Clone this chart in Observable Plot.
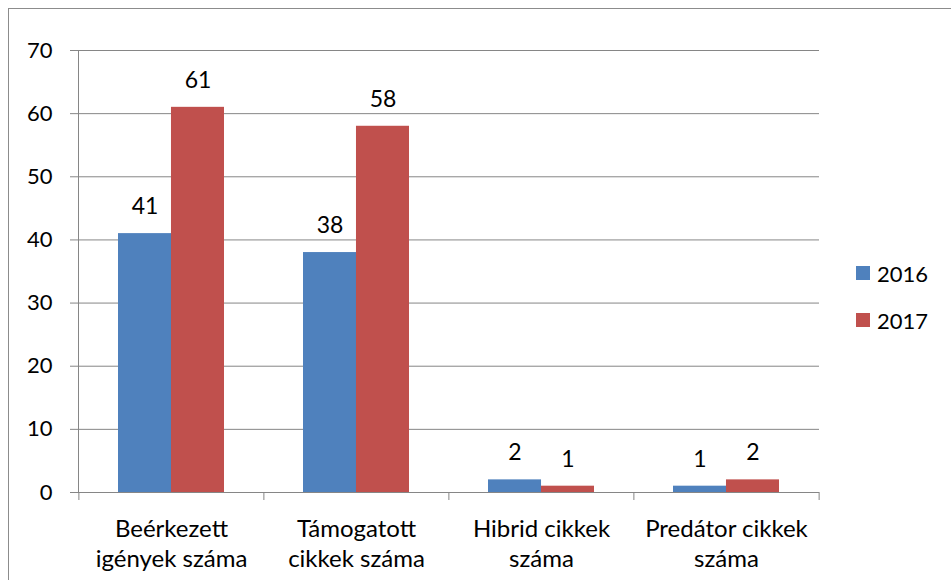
<!DOCTYPE html>
<html>
<head>
<meta charset="utf-8">
<script src="https://cdn.jsdelivr.net/npm/d3@7"></script>
<script src="https://cdn.jsdelivr.net/npm/@observablehq/plot@0.6"></script>
<style>
  html, body { margin: 0; padding: 0; background: #fff; overflow: hidden; width: 951px; height: 580px; }
  #wrap { position: relative; width: 951px; height: 580px; }
  #border { position: absolute; left: 8px; top: 8px; width: 1000px; height: 700px; border: 1px solid #8c8c8c; box-sizing: border-box; }
  #chart { position: absolute; left: 0; top: 0; }
  #chart svg text { fill: #000; }
  #legend { position: absolute; left: 856px; top: 258px; font-family: Lato, sans-serif; font-size: 22px; color: #000; }
  .item { display: flex; align-items: center; height: 30px; margin-bottom: 17px; }
  .sw { width: 14px; height: 14px; margin-right: 7px; }
</style>
</head>
<body>
<div id="wrap">
  <div id="border"></div>
  <div id="chart"></div>
  <div id="legend"></div>
</div>
<script>
const categories = ["Beérkezett\nigények száma", "Támogatott\ncikkek száma", "Hibrid cikkek\nszáma", "Predátor cikkek\nszáma"];
const years = ["2016", "2017"];
const values2016 = [41, 38, 2, 1];
const values2017 = [61, 58, 1, 2];
const yTicks = [0, 10, 20, 30, 40, 50, 60, 70];
const colors = ["#4F81BD", "#C0504D"];

const data = [];
categories.forEach((c, i) => {
  data.push({category: c, year: years[0], value: values2016[i]});
  data.push({category: c, year: years[1], value: values2017[i]});
});
const d16 = data.filter(d => d.year === years[0]);
const d17 = data.filter(d => d.year === years[1]);

const W = 951, H = 580, ml = 78, mr = 132, mt = 50, mb = 88;
const pInner = 0.428, pOuter = 0.214;
const step = (W - ml - mr) / categories.length;
const bw = step * (1 - pInner);
const tickLen = 8 * 70 / (H - mt - mb);

const lastCat = categories.slice(-1);

const plot = Plot.plot({
  width: W,
  height: H,
  marginLeft: ml,
  marginRight: mr,
  marginTop: mt,
  marginBottom: mb,
  style: {fontFamily: "Lato, sans-serif", fontSize: "22px", color: "#868686", background: "transparent", overflow: "visible"},
  x: {domain: categories, paddingInner: pInner, paddingOuter: pOuter, axis: null},
  y: {domain: [0, 70], ticks: yTicks, tickSize: 8, tickPadding: 18, label: null, line: true, tickFormat: d => String(d)},
  marks: [
    Plot.ruleY(yTicks, {stroke: "#868686", strokeWidth: 1}),
    Plot.barY(d16, {x: "category", y: "value", fill: colors[0], insetRight: bw / 2}),
    Plot.barY(d17, {x: "category", y: "value", fill: colors[1], insetLeft: bw / 2}),
    Plot.ruleY([0], {stroke: "#868686", strokeWidth: 1}),
    Plot.ruleX(categories, {x: d => d, y1: 0, y2: -tickLen, dx: -step / 2, stroke: "#868686"}),
    Plot.ruleX(lastCat, {x: d => d, y1: 0, y2: -tickLen, dx: step / 2, stroke: "#868686"}),
    Plot.text(d16, {x: "category", y: "value", text: d => String(d.value), dx: -bw / 4, dy: -27, fill: "#000", fontSize: 23}),
    Plot.text(d17, {x: "category", y: "value", text: d => String(d.value), dx: bw / 4, dy: -27, fill: "#000", fontSize: 23}),
    Plot.text(categories, {x: d => d, y: 0, text: d => d, lineAnchor: "top", dy: 23, lineHeight: 1.25, fill: "#000", fontSize: 24})
  ]
});
document.getElementById("chart").appendChild(plot);

const legend = document.getElementById("legend");
years.forEach((y, i) => {
  const it = document.createElement("div");
  it.className = "item";
  const sw = document.createElement("div");
  sw.className = "sw";
  sw.style.background = colors[i];
  const t = document.createElement("span");
  t.textContent = y;
  it.appendChild(sw);
  it.appendChild(t);
  legend.appendChild(it);
});
</script>
</body>
</html>
